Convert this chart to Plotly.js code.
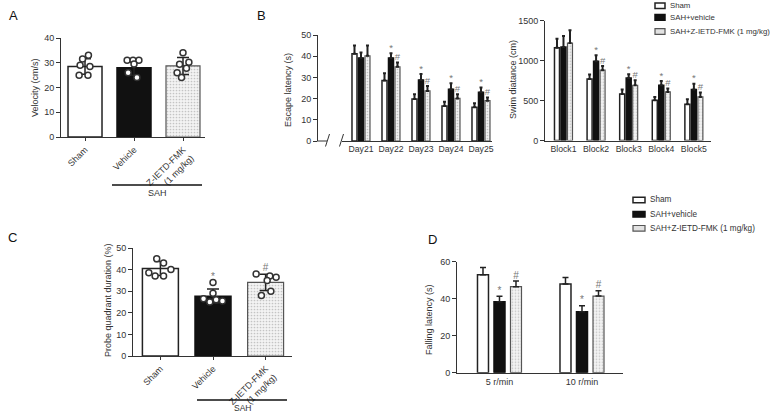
<!DOCTYPE html>
<html><head><meta charset="utf-8">
<script src="https://cdn.plot.ly/plotly-3.0.1.min.js"></script>
<style>html,body{margin:0;padding:0;background:#fff;}#chart{width:773px;height:413px;}</style>
</head><body><div id="chart"></div>
<script>
// ---------------- data ----------------
const groupLabels = ['Sham', 'Vehicle', 'Z-IETD-FMK<br>(1 mg/kg)'];
const seriesNames = ['Sham', 'SAH+vehicle', 'SAH+Z-IETD-FMK (1 mg/kg)'];

// Panel A: velocity (cm/s)
const velocityMean = [28.5, 28.0, 28.7];
const velocitySD = [3.1, 3.0, 3.4];
const velocitySham = [33, 31.5, 29, 28.5, 25, 25];
const velocityVehicle = [31, 31, 31, 29.5, 26, 24];
const velocityZ = [34, 30.2, 29.4, 27.8, 26, 24];

// Panel B left: escape latency (s)
const days = ['Day21', 'Day22', 'Day23', 'Day24', 'Day25'];
const escSham = [41.2, 28.5, 19.8, 16.5, 15.9];
const escShamErr = [3.8, 3.5, 2.2, 2.0, 1.9];
const escVehicle = [39.2, 39.2, 28.8, 24.4, 23.0];
const escVehicleErr = [2.5, 2.2, 2.8, 2.8, 2.2];
const escZ = [40.2, 35.0, 23.6, 20.1, 19.0];
const escZErr = [4.8, 2.0, 2.4, 1.9, 1.5];
const escMarkVehicle = ['', '*', '*', '*', '*'];
const escMarkZ = ['', '#', '#', '#', '#'];

// Panel B right: swim distance (cm)
const blocks = ['Block1', 'Block2', 'Block3', 'Block4', 'Block5'];
const swimSham = [1162, 770, 583, 504, 454];
const swimShamErr = [113, 55, 55, 42, 63];
const swimVehicle = [1170, 992, 783, 692, 638];
const swimVehicleErr = [138, 75, 47, 54, 74];
const swimZ = [1220, 880, 692, 608, 546];
const swimZErr = [160, 53, 62, 42, 54];
const swimMarkVehicle = ['', '*', '*', '*', '*'];
const swimMarkZ = ['', '#', '#', '#', '#'];

// Panel C: probe quadrant duration (%)
const probeMean = [40.5, 27.7, 34.1];
const probeSD = [3.2, 3.3, 3.8];
const probeSham = [45, 43, 40, 38.5, 37, 37];
const probeVehicle = [34, 29, 26.5, 25, 26, 25.5];
const probeZ = [38, 37, 36.5, 35, 30, 28];
const probeMarks = ['', '*', '#'];

// Panel D: falling latency (s)
const speeds = ['5 r/min', '10 r/min'];
const fallSham = [53.0, 48.0];
const fallShamErr = [3.8, 3.5];
const fallVehicle = [38.3, 33.0];
const fallVehicleErr = [3.0, 3.2];
const fallZ = [46.5, 41.4];
const fallZErr = [3.0, 2.9];
const fallMarkVehicle = ['*', '*'];
const fallMarkZ = ['#', '#'];

// ---------------- styles ----------------
const FONT = 'Liberation Sans, Arial, sans-serif';
const TXT = '#333';
const W = 773, H = 413;
const fx = p => p / W;
const fy = p => 1 - p / H;

const barStyles = [
  {color: '#ffffff', line: {color: '#222', width: 1.5}},
  {color: '#111111', line: {color: '#111', width: 1.5}},
  {color: '#eeeeee', line: {color: '#555', width: 1.2},
   pattern: {shape: '.', bgcolor: '#f3f3f3', fgcolor: '#c4c4c4', size: 3, solidity: 0.25}}
];
// dot jitter (style only, category units)
const jitA = [[0.07, -0.05, -0.1, 0.1, -0.12, 0.06], [-0.14, -0.02, 0.1, 0.0, -0.12, 0.06], [0.0, 0.12, -0.07, 0.07, -0.12, -0.03]];
const jitC = [[-0.07, 0.06, 0.2, -0.22, -0.1, 0.06], [0.0, 0.0, -0.18, -0.06, 0.06, 0.18], [-0.18, 0.08, 0.2, 0.03, 0.1, -0.08]];

const traces = [];
const idx = arr => arr.map((_, i) => i);

// --- single-bar panels (A, C) ---
function singlePanel(xa, ya, means, sds, pts, jit, w, marks) {
  means.forEach((m, i) => {
    traces.push({type: 'bar', x: [i], y: [m], xaxis: xa, yaxis: ya, width: w, offset: -w / 2,
      marker: barStyles[i], showlegend: false, hoverinfo: 'skip',
      error_y: {type: 'data', array: [sds[i]], symmetric: true, color: '#222', thickness: 1.5, width: 6}});
  });
  pts.forEach((p, i) => {
    traces.push({type: 'scatter', mode: 'markers', x: p.map((_, k) => i + jit[i][k]), y: p,
      xaxis: xa, yaxis: ya, showlegend: false, hoverinfo: 'skip',
      marker: {symbol: 'circle', size: 6, color: '#ffffff', line: {color: '#333', width: 1.5}}});
  });
  if (marks) {
    traces.push({type: 'scatter', mode: 'text', x: idx(means), y: pts.map(p => Math.max(...p)),
      text: marks, textposition: 'top center', xaxis: xa, yaxis: ya, showlegend: false, hoverinfo: 'skip',
      textfont: {family: FONT, size: 10, color: '#777'}});
  }
}
singlePanel('x', 'y', velocityMean, velocitySD, [velocitySham, velocityVehicle, velocityZ], jitA, 0.694, null);
singlePanel('x4', 'y4', probeMean, probeSD, [probeSham, probeVehicle, probeZ], jitC, 0.684, probeMarks);

// --- grouped panels (B left, B right, D) ---
function groupedPanel(xa, ya, cats, means, errs, marks, pitch, w, errW, errT, markSize) {
  means.forEach((m, s) => {
    const off = (s - 1.5) * pitch + (pitch - w) / 2;
    traces.push({type: 'bar', x: idx(cats), y: m, xaxis: xa, yaxis: ya, width: w, offset: off,
      marker: barStyles[s], showlegend: false, hoverinfo: 'skip',
      error_y: {type: 'data', array: errs[s], arrayminus: m.map(() => 0), symmetric: false,
        color: '#222', thickness: errT, width: errW}});
    if (marks[s]) {
      traces.push({type: 'scatter', mode: 'text', x: idx(cats).map(i => i + off + w / 2),
        y: m.map((v, i) => v + errs[s][i]), text: marks[s], textposition: 'top center',
        xaxis: xa, yaxis: ya, showlegend: false, hoverinfo: 'skip',
        textfont: {family: FONT, size: markSize, color: '#777'}});
    }
  });
}
groupedPanel('x2', 'y2', days, [escSham, escVehicle, escZ], [escShamErr, escVehicleErr, escZErr],
  [null, escMarkVehicle, escMarkZ], 6.5 / 30, 5 / 30, 1.5, 2, 9.5);
groupedPanel('x3', 'y3', blocks, [swimSham, swimVehicle, swimZ], [swimShamErr, swimVehicleErr, swimZErr],
  [null, swimMarkVehicle, swimMarkZ], 6.5 / 32.6, 5 / 32.6, 1.5, 2, 9.5);
groupedPanel('x5', 'y5', speeds, [fallSham, fallVehicle, fallZ], [fallShamErr, fallVehicleErr, fallZErr],
  [null, fallMarkVehicle, fallMarkZ], 16.5 / 82.5, 11 / 82.5, 3, 1.5, 10);

// ---------------- axes ----------------
const axBase = {showgrid: false, zeroline: false, showline: true, linecolor: '#333', linewidth: 1,
  ticks: 'outside', ticklen: 4, tickcolor: '#333', tickwidth: 1, automargin: false, fixedrange: true,
  tickfont: {family: FONT, size: 9, color: TXT}};

const layout = {
  width: W, height: H, margin: {l: 0, r: 0, t: 0, b: 0}, paper_bgcolor: '#fff', plot_bgcolor: 'rgba(0,0,0,0)',
  barmode: 'overlay', showlegend: false, font: {family: FONT, color: TXT},
  xaxis: {...axBase, domain: [fx(61), fx(205)], range: [-0.49, 2.449], tickvals: [0, 1, 2], ticktext: groupLabels,
    tickangle: -45, ticklen: 3, anchor: 'y'},
  yaxis: {...axBase, domain: [fy(137), fy(38)], range: [0, 40], dtick: 10, anchor: 'x'},
  xaxis2: {...axBase, domain: [fx(342), fx(492)], range: [-0.633, 4.367], tickvals: idx(days), ticktext: days,
    ticks: '', anchor: 'y2', tickfont: {family: FONT, size: 8.7, color: TXT}},
  yaxis2: {...axBase, domain: [fy(141), fy(35)], range: [0, 50], dtick: 10, anchor: 'free', position: fx(317)},
  xaxis3: {...axBase, domain: [fx(545), fx(711)], range: [-0.567, 4.525], tickvals: idx(blocks), ticktext: blocks,
    ticks: '', anchor: 'y3', tickfont: {family: FONT, size: 8.7, color: TXT}},
  yaxis3: {...axBase, domain: [fy(140.5), fy(20.7)], range: [0, 1500], dtick: 500, anchor: 'x3'},
  xaxis4: {...axBase, domain: [fx(133), fx(292)], range: [-0.521, 2.502], tickvals: [0, 1, 2], ticktext: groupLabels,
    tickangle: -45, ticklen: 3, anchor: 'y4'},
  yaxis4: {...axBase, domain: [fy(356), fy(248)], range: [0, 50], dtick: 10, anchor: 'x4'},
  xaxis5: {...axBase, domain: [fx(457), fx(623)], range: [-0.515, 1.497], tickvals: idx(speeds), ticktext: speeds,
    ticks: '', anchor: 'y5'},
  yaxis5: {...axBase, domain: [fy(372.7), fy(261.7)], range: [0, 60], dtick: 20, anchor: 'x5'},
  shapes: [], annotations: []
};

const P = (x0, y0, x1, y1, extra) => Object.assign({type: 'line', xref: 'paper', yref: 'paper',
  x0: fx(x0), y0: fy(y0), x1: fx(x1), y1: fy(y1), line: {color: '#333', width: 1}}, extra || {});
// axis break for panel B left
layout.shapes.push(P(317, 141, 327, 141));
layout.shapes.push(P(325.5, 146.5, 329.5, 134));
layout.shapes.push(P(339.5, 146.5, 343.5, 134));
// SAH bars
layout.shapes.push(P(112, 185, 202, 185, {line: {color: '#111', width: 1.6}}));
layout.shapes.push(P(197, 400, 287, 400, {line: {color: '#111', width: 1.6}}));

function ann(text, x, y, opts) {
  layout.annotations.push(Object.assign({text: text, xref: 'paper', yref: 'paper', x: fx(x), y: fy(y),
    showarrow: false, xanchor: 'center', yanchor: 'middle', font: {family: FONT, size: 9, color: TXT}}, opts || {}));
}
// panel letters
ann('A', 14, 15, {font: {family: FONT, size: 13, color: '#111'}});
ann('B', 261, 15, {font: {family: FONT, size: 13, color: '#111'}});
ann('C', 13, 237, {font: {family: FONT, size: 13, color: '#111'}});
ann('D', 432, 240, {font: {family: FONT, size: 13, color: '#111'}});
// axis titles
ann('Velocity (cm/s)', 35, 88, {textangle: -90});
ann('Escape latency (s)', 288, 90, {textangle: -90});
ann('Swim diatance (cm)', 513, 80, {textangle: -90});
ann('Probe quadrant duration (%)', 108, 300, {textangle: -90});
ann('Falling latency (s)', 429, 319, {textangle: -90});
// SAH labels
ann('SAH', 157, 193);
ann('SAH', 242, 407.5, {font: {family: FONT, size: 8.5, color: TXT}});

// legends
function legend(x0, rows, sq, fs) {
  rows.forEach((ry, s) => {
    const st = barStyles[s];
    layout.shapes.push({type: 'rect', xref: 'paper', yref: 'paper', x0: fx(x0), x1: fx(x0 + sq),
      y0: fy(ry + 2.8), y1: fy(ry - 2.8), fillcolor: s === 2 ? '#e2e2e2' : st.color,
      line: {color: st.line.color, width: st.line.width}});
    ann(seriesNames[s], x0 + sq + 2.5, ry, {xanchor: 'left', font: {family: FONT, size: fs, color: TXT}});
  });
}
legend(655, [5.8, 17.4, 31.5], 10, 7.8);
legend(633, [200, 214.3, 228.3], 12, 8.2);

Plotly.newPlot('chart', traces, layout, {staticPlot: true, displayModeBar: false});
</script></body></html>
